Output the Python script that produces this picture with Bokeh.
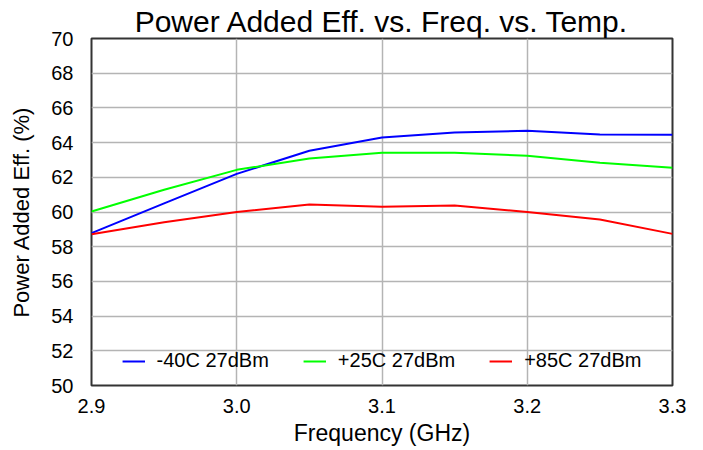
from bokeh.plotting import figure
from bokeh.models import Range1d, Legend, LegendItem, FixedTicker
from bokeh.embed import file_html
from bokeh.resources import INLINE

freq = [2.9, 2.95, 3.0, 3.05, 3.1, 3.15, 3.2, 3.25, 3.3]
pae_m40 = [58.78, 60.5, 62.2, 63.53, 64.29, 64.58, 64.68, 64.47, 64.45]
pae_p25 = [60.03, 61.28, 62.43, 63.08, 63.41, 63.41, 63.24, 62.84, 62.55]
pae_p85 = [58.72, 59.41, 60.0, 60.43, 60.3, 60.37, 60.0, 59.57, 58.74]
labels = ["-40C 27dBm", "+25C 27dBm", "+85C 27dBm"]
colors = ["#0000ff", "#00ff00", "#ff0000"]
x_ticks = [2.9, 3.0, 3.1, 3.2, 3.3]
y_ticks = list(range(50, 71, 2))

FONT = "Liberation Sans"

p = figure(width=703, height=450, output_backend="svg", toolbar_location=None,
           x_range=Range1d(2.9, 3.3), y_range=Range1d(50, 70),
           min_border_left=91, min_border_right=31, min_border_top=38, min_border_bottom=65,
           title="Power Added Eff. vs. Freq. vs. Temp.")
p.title.align = "center"
p.title.text_font = FONT
p.title.text_font_size = "30px"
p.title.text_font_style = "normal"
p.title.text_color = "black"
p.title.offset = 0
p.title.standoff = 1

p.xaxis.ticker = FixedTicker(ticks=x_ticks)
p.xaxis.major_label_overrides = {t: f"{t:.1f}" for t in x_ticks}
p.yaxis.ticker = FixedTicker(ticks=y_ticks)
p.xaxis.axis_label = "Frequency (GHz)"
p.yaxis.axis_label = "Power Added Eff. (%)"
for ax in (p.xaxis, p.yaxis):
    ax.axis_label_text_font = FONT
    ax.axis_label_text_font_style = "normal"
    ax.axis_label_text_color = "black"
    ax.major_label_text_font = FONT
    ax.major_label_text_font_size = "20px"
    ax.major_label_text_color = "black"
    ax.major_tick_out = 0
    ax.major_tick_in = 0
    ax.minor_tick_out = 0
    ax.minor_tick_in = 0
    ax.axis_line_color = None
p.xaxis.axis_label_text_font_size = "23px"
p.yaxis.axis_label_text_font_size = "22px"
p.xaxis.major_label_standoff = 13
p.yaxis.major_label_standoff = 18
p.xaxis.axis_label_standoff = 4
p.yaxis.axis_label_standoff = 14

p.xgrid.grid_line_color = "#b4b4b4"
p.ygrid.grid_line_color = "#b4b4b4"
p.xgrid.grid_line_width = 1.5
p.ygrid.grid_line_width = 1.5
p.outline_line_color = "#333333"
p.outline_line_width = 2

series = [pae_m40, pae_p25, pae_p85]
items = []
for lab, col, ys in zip(labels, colors, series):
    r = p.line(freq, ys, line_color=col, line_width=2)
    items.append(LegendItem(label=lab, renderers=[r]))

legend = Legend(items=items, orientation="horizontal", location="bottom_center",
                border_line_color=None, background_fill_alpha=0,
                label_text_font=FONT, label_text_font_size="20px",
                label_text_color="black",
                glyph_width=23, label_standoff=12, spacing=34,
                margin=13, padding=4)
p.add_layout(legend)

open("out.html", "w").write(file_html(p, INLINE))
